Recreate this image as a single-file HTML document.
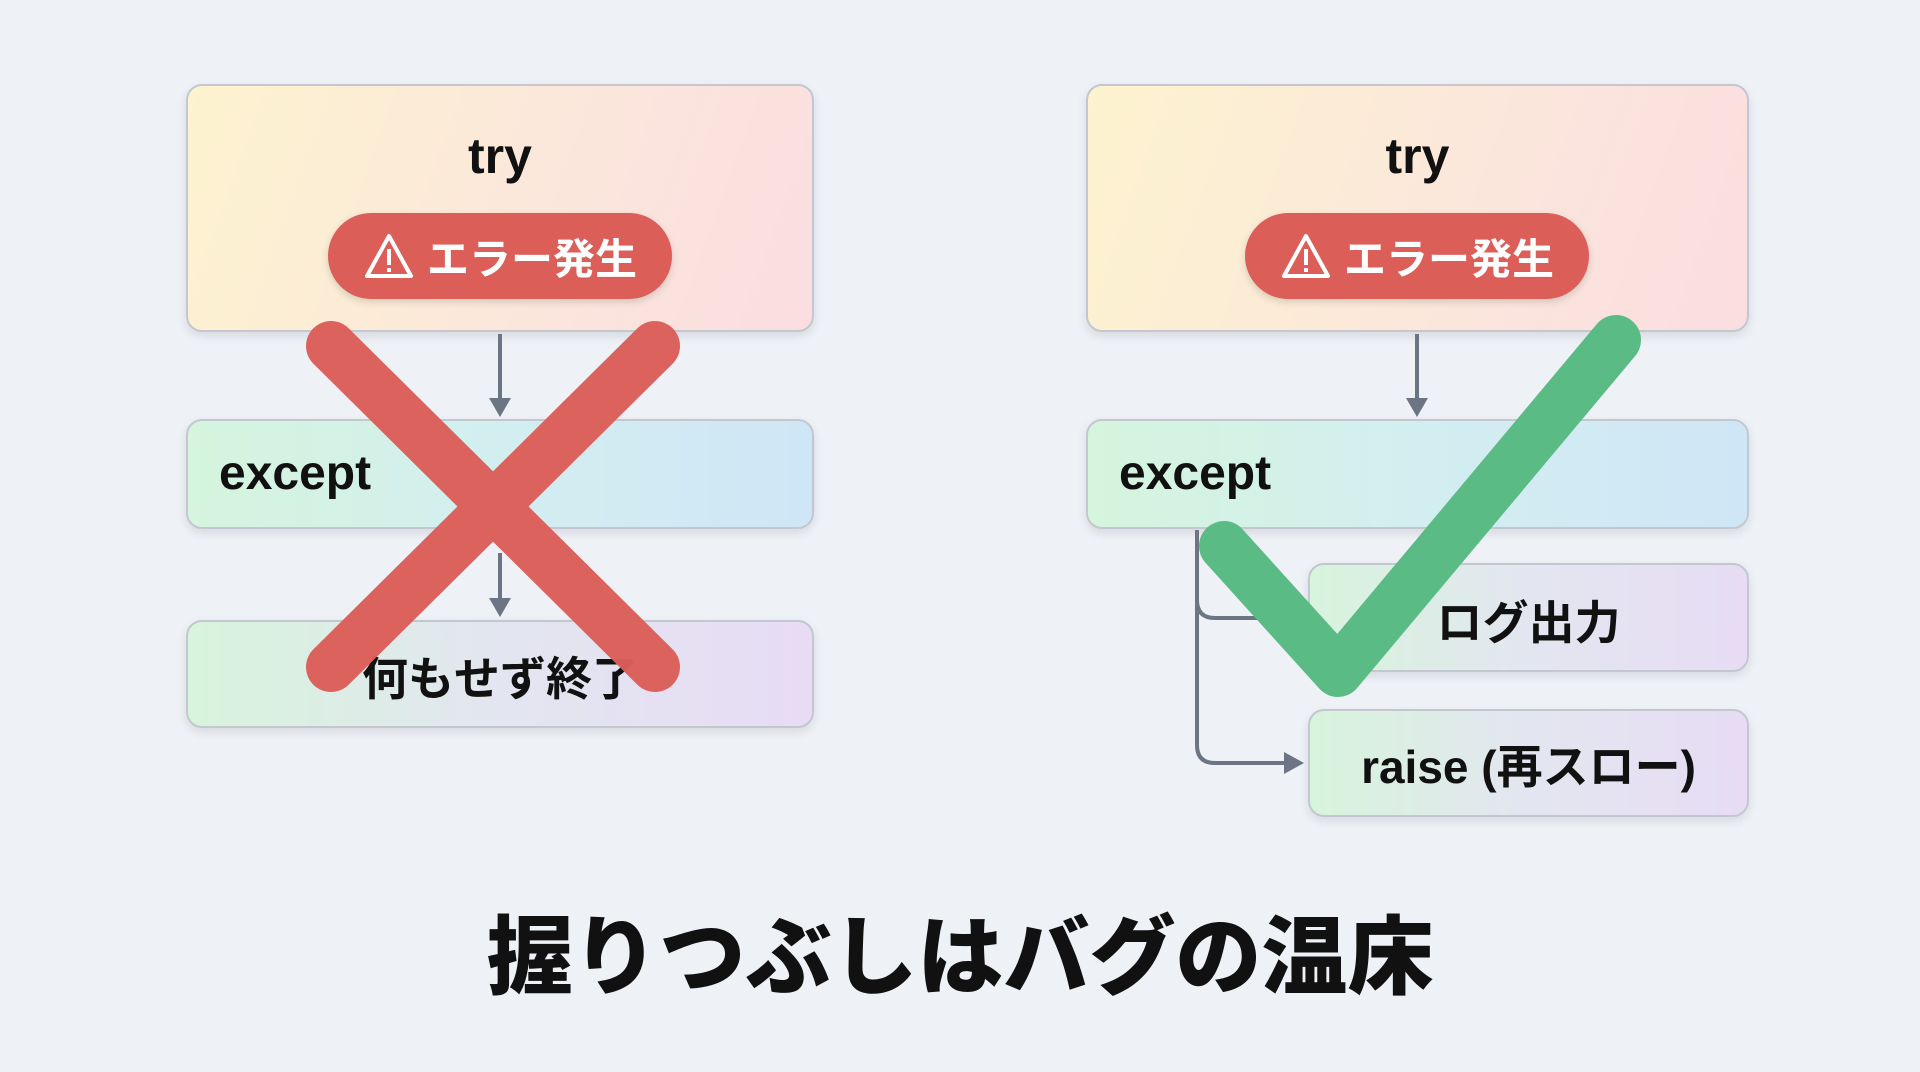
<!DOCTYPE html>
<html><head><meta charset="utf-8"><style>
html,body{margin:0;padding:0}
body{width:1920px;height:1072px;background:#eef2f7;position:relative;overflow:hidden;font-family:"Liberation Sans","Noto Sans CJK JP",sans-serif}
.box{position:absolute;border:2.5px solid #c3c8d0;border-radius:16px;box-sizing:border-box;box-shadow:0 4px 10px rgba(0,0,0,0.10)}
.try{background:linear-gradient(110deg,#fdf3cf,#fbe6dc 60%,#fbdde0)}
.exc{background:linear-gradient(90deg,#d5f5dd,#d3eef0 50%,#cfe6f6)}
.low{background:linear-gradient(90deg,#d7f4dc,#e3e6f0 50%,#e7dcf4)}
.t{position:absolute;font-weight:bold;color:#111;font-family:"Liberation Sans","Noto Sans CJK JP",sans-serif}
.pill{position:absolute;background:#dc5e59;border-radius:44px;color:#fff;font-weight:bold;font-size:42px;display:flex;align-items:center;justify-content:center;gap:12px;box-shadow:0 3px 8px rgba(0,0,0,0.15)}
</style></head><body>
<div class="box try" style="left:186px;top:84px;width:628px;height:248px"></div>
<div class="t" style="left:186px;width:628px;text-align:center;top:127px;font-size:50px">try</div>
<div class="pill" style="left:328px;top:213px;width:344px;height:86px"><svg width="52" height="48" viewBox="0 0 52 48"><path d="M26 4 L48 44 L4 44 Z" fill="none" stroke="#fff" stroke-width="4" stroke-linejoin="round"/><rect x="24" y="17" width="4" height="16" fill="#fff"/><rect x="24" y="36" width="4" height="4" fill="#fff"/></svg><span>エラー発生</span></div>
<div class="box exc" style="left:186px;top:419px;width:628px;height:110px"></div>
<div class="t" style="left:219px;top:446px;font-size:48px">except</div>
<div class="box low" style="left:186px;top:620px;width:628px;height:108px"></div>
<div class="t" style="left:186px;width:628px;text-align:center;top:643px;font-size:46px">何もせず終了</div>

<div class="box try" style="left:1086px;top:84px;width:663px;height:248px"></div>
<div class="t" style="left:1086px;width:663px;text-align:center;top:127px;font-size:50px">try</div>
<div class="pill" style="left:1245px;top:213px;width:344px;height:86px"><svg width="52" height="48" viewBox="0 0 52 48"><path d="M26 4 L48 44 L4 44 Z" fill="none" stroke="#fff" stroke-width="4" stroke-linejoin="round"/><rect x="24" y="17" width="4" height="16" fill="#fff"/><rect x="24" y="36" width="4" height="4" fill="#fff"/></svg><span>エラー発生</span></div>
<div class="box exc" style="left:1086px;top:419px;width:663px;height:110px"></div>
<div class="t" style="left:1119px;top:446px;font-size:48px">except</div>
<div class="box low" style="left:1308px;top:563px;width:441px;height:109px"></div>
<div class="t" style="left:1308px;width:441px;text-align:center;top:587px;font-size:46px">ログ出力</div>
<div class="box low" style="left:1308px;top:709px;width:441px;height:108px"></div>
<div class="t" style="left:1308px;width:441px;text-align:center;top:731px;font-size:46px">raise (再スロー)</div>

<svg width="1920" height="1072" style="position:absolute;left:0;top:0">
<g stroke="#6b7584" stroke-width="4" fill="none">
<line x1="500" y1="334" x2="500" y2="400"/>
<line x1="500" y1="553" x2="500" y2="600"/>
<line x1="1417" y1="334" x2="1417" y2="400"/>
<path d="M1197 530 V600 Q1197 618 1215 618 H1308"/>
<path d="M1197 600 V745 Q1197 763 1215 763 H1286"/>
</g>
<g fill="#6b7584">
<path d="M489 398 L511 398 L500 417Z"/>
<path d="M489 598 L511 598 L500 617Z"/>
<path d="M1406 398 L1428 398 L1417 417Z"/>
<path d="M1284 752 L1284 774 L1304 763Z"/>
</g>
<g stroke="#dc5e59" stroke-width="50" stroke-linecap="round" opacity="0.97">
<line x1="331" y1="346" x2="655" y2="667"/>
<line x1="655" y1="346" x2="331" y2="667"/>
</g>
<polyline points="1224,546 1338,672 1616,340" fill="none" stroke="#5bbb84" stroke-width="50" stroke-linecap="round" stroke-linejoin="round"/>
</svg>
<div class="t" style="left:0;width:1920px;text-align:center;top:887px;font-size:86px;font-weight:900">握りつぶしはバグの温床</div>
</body></html>
